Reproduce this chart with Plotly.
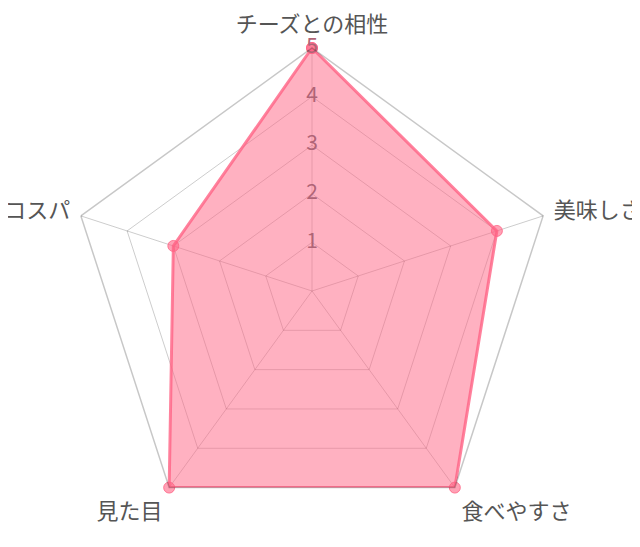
import plotly.graph_objects as go

# 評価項目とスコア
categories = ['チーズとの相性', '美味しさ', '食べやすさ', '見た目', 'コスパ']
scores = [5, 4, 5, 5, 3]
tick_values = [1, 2, 3, 4, 5]

font_family = 'Noto Sans CJK JP'

fig = go.Figure()

fig.add_trace(go.Scatterpolar(
    r=scores + scores[:1],
    theta=categories + categories[:1],
    mode='lines+markers',
    fill='toself',
    fillcolor='rgba(255, 99, 132, 0.5)',
    line=dict(color='rgba(255, 99, 132, 0.8)', width=3),
    marker=dict(size=11, color='rgba(255, 99, 132, 0.6)',
                line=dict(color='rgba(255, 99, 132, 0.8)', width=1)),
    showlegend=False
))

# radial tick numbers along the top axis (colour mimics grey seen through the pink fill)
fig.add_trace(go.Scatterpolar(
    r=tick_values,
    theta=[categories[0]] * len(tick_values),
    mode='text',
    text=[str(v) for v in tick_values],
    textfont=dict(size=21, color='rgb(176, 100, 118)', family=font_family),
    hoverinfo='skip',
    showlegend=False
))

fig.update_layout(
    width=640, height=547,
    margin=dict(l=61, r=93, t=40, b=21),
    paper_bgcolor='white',
    font=dict(family=font_family, color='#666666'),
    polar=dict(
        bgcolor='white',
        gridshape='linear',
        radialaxis=dict(
            range=[0, 5],
            tickvals=tick_values,
            showticklabels=False,
            ticks='',
            showline=False,
            gridcolor='rgba(0,0,0,0.2)',
            gridwidth=1,
        ),
        angularaxis=dict(
            rotation=90,
            direction='clockwise',
            # invisible ticks just to push the labels a little outward
            ticks='outside',
            ticklen=6,
            tickcolor='rgba(0,0,0,0)',
            showline=True,
            linecolor='rgba(0,0,0,0.22)',
            linewidth=1.5,
            gridcolor='rgba(0,0,0,0.2)',
            tickfont=dict(size=22, color='#555555', family=font_family),
        ),
    ),
)

fig.write_html('out.html')
